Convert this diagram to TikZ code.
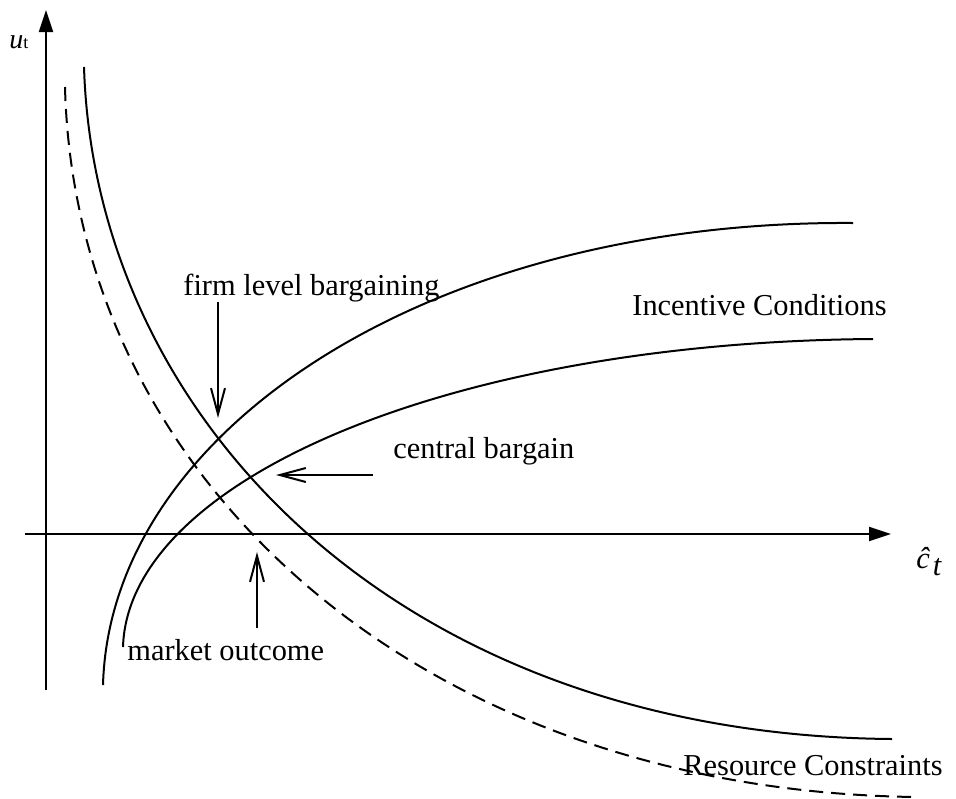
\documentclass[tikz,border=0pt]{standalone}
\usepackage{fontspec}
\setmainfont{Liberation Serif}
\usetikzlibrary{arrows.meta}
\tikzset{axis/.style={line width=1pt,-{Triangle[length=11pt,width=7pt]}},
    curve/.style={line width=1pt},
    pointer/.style={line width=1pt,-{Straight Barb[length=13pt,width=7pt]}},
    lbl/.style={anchor=base west,inner sep=0pt,font=\fontsize{15.2}{18}\selectfont}}

\begin{document}
\begin{tikzpicture}[x=0.5pt,y=-0.5pt]
                \useasboundingbox (0,0) rectangle (956,798);
                % axes
                \coordinate (yfoot) at (46,690);
                \coordinate (ytip) at (46,10);
                \coordinate (xfoot) at (25,534);
                \coordinate (xtip) at (891,534);
                \draw[axis] (yfoot) -- (ytip);
                \draw[axis] (xfoot) -- (xtip);
                \node[lbl] (ulab) at (9,48) {{\fontsize{14}{15}\selectfont\itshape u}{\fontsize{9}{10}\selectfont t}};
                \node[lbl] (clab) at (916,568) {\itshape ĉ\kern1.5pt\raisebox{-3.5pt}{t}};
                % resource constraints
                \draw[curve] (84,67) .. controls (95,420) and (400,735) .. (892,739);
                \draw[curve,dash pattern=on 7pt off 4pt] (65,87) .. controls (75,480) and (420,790) .. (915,797);
                % incentive conditions
                \draw[curve] (103,685) .. controls (110,430) and (430,220) .. (853,223);
                \draw[curve] (123,647) .. controls (128,480) and (450,342) .. (873,339);
                % labels
                \node[lbl] (firm) at (183,295) {firm level bargaining};
                \node[lbl] (incentive) at (632,315) {Incentive Conditions};
                \node[lbl] (central) at (393,458) {central bargain};
                \node[lbl] (market) at (127,660) {market outcome};
                \node[lbl] (resource) at (683,775) {Resource Constraints};
                % pointers
                \coordinate (firmtail) at (218,302);
                \coordinate (firmpt) at (218,418);
                \coordinate (centraltail) at (373,475);
                \coordinate (centralpt) at (276,475);
                \coordinate (markettail) at (257,628);
                \coordinate (marketpt) at (257,552);
                \draw[pointer] (firmtail) -- (firmpt);
                \draw[pointer] (centraltail) -- (centralpt);
                \draw[pointer] (markettail) -- (marketpt);
\end{tikzpicture}
\end{document}
